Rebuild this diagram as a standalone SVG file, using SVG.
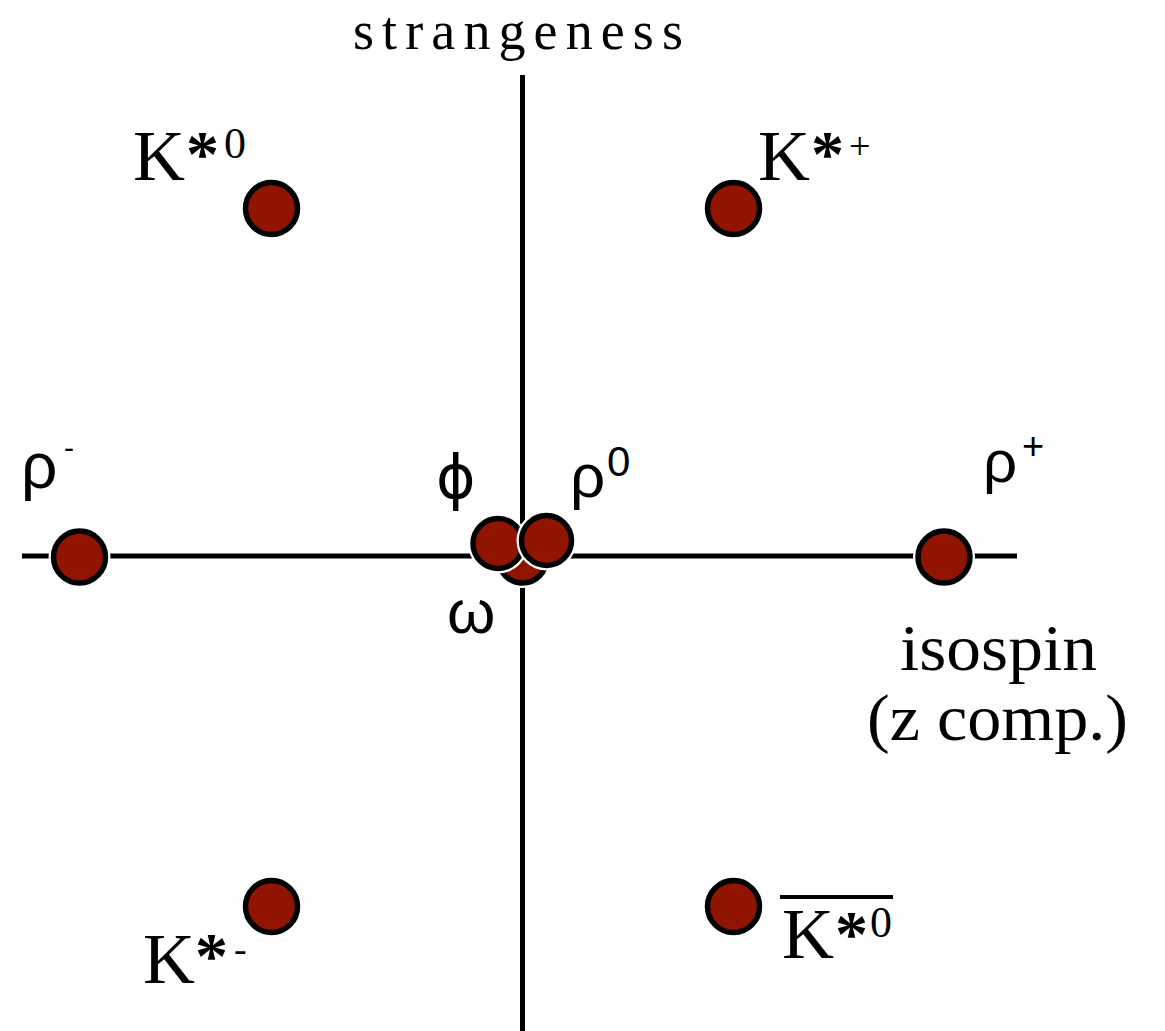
<svg xmlns="http://www.w3.org/2000/svg" width="1165" height="1031" viewBox="0 0 1165 1031">
<style>
.serif{font-family:"Liberation Serif","DejaVu Serif",serif;fill:#000}
.sans{font-family:"Liberation Sans","DejaVu Sans",sans-serif;fill:#000}
.halo{fill:#fff}
.p{fill:#911400;stroke:#000;stroke-width:5.5}
.axis{stroke:#000;stroke-width:5;fill:none}
</style>
<rect width="1165" height="1031" fill="#fff"/>
<g id="axes">
<line class="axis" x1="522.5" y1="75" x2="522.5" y2="1031"/>
<line class="axis" x1="22" y1="556" x2="1017" y2="556"/>
</g>
<g id="axis-labels">
<text class="serif" x="353" y="49" font-size="54" textLength="330" lengthAdjust="spacing">strangeness</text>
<text class="serif" x="900" y="670" font-size="66" textLength="197" lengthAdjust="spacingAndGlyphs">isospin</text>
<text class="serif" x="867" y="740" font-size="66" textLength="261" lengthAdjust="spacingAndGlyphs">(z comp.)</text>
</g>
<g id="K-star-0">
<circle class="halo" cx="271.5" cy="208.5" r="31"/>
<circle class="p" cx="271.5" cy="208.5" r="26"/>
<text class="serif"><tspan x="133" y="180" font-size="72">K</tspan><tspan x="186" y="176" font-size="66" font-weight="bold">*</tspan><tspan x="224" y="158" font-size="44">0</tspan></text>
</g>
<g id="K-star-plus">
<circle class="halo" cx="733.5" cy="208.5" r="31"/>
<circle class="p" cx="733.5" cy="208.5" r="26"/>
<text class="serif"><tspan x="758" y="180" font-size="72">K</tspan><tspan x="811" y="176" font-size="66" font-weight="bold">*</tspan><tspan x="849" y="159" font-size="38">+</tspan></text>
</g>
<g id="rho-minus">
<circle class="halo" cx="79.5" cy="557" r="31"/>
<circle class="p" cx="79.5" cy="557" r="26"/>
<text class="sans"><tspan x="21" y="488" font-size="64">ρ</tspan><tspan x="64" y="458" font-size="30">-</tspan></text>
</g>
<g id="rho-plus">
<circle class="halo" cx="944" cy="557" r="31"/>
<circle class="p" cx="944" cy="557" r="26"/>
<text class="sans"><tspan x="983" y="482" font-size="60">ρ</tspan><tspan x="1022" y="459" font-size="38">+</tspan></text>
</g>
<g id="omega">
<circle class="halo" cx="522.5" cy="559" r="29"/>
<circle class="p" cx="522.5" cy="559" r="24"/>
<text class="sans" x="447" y="633" font-size="62">ω</text>
</g>
<g id="phi">
<circle class="halo" cx="498" cy="543.5" r="30"/>
<circle class="p" cx="498" cy="543.5" r="25"/>
<text x="436" y="498" font-size="60" font-family="'DejaVu Sans',sans-serif">ϕ</text>
</g>
<g id="rho-0">
<circle class="halo" cx="546.5" cy="540.5" r="30"/>
<circle class="p" cx="546.5" cy="540.5" r="25"/>
<text class="sans"><tspan x="570" y="497" font-size="62">ρ</tspan><tspan x="607" y="476" font-size="42">0</tspan></text>
</g>
<g id="K-star-minus">
<circle class="halo" cx="271.5" cy="906.5" r="31"/>
<circle class="p" cx="271.5" cy="906.5" r="26"/>
<text class="serif"><tspan x="143" y="983" font-size="72">K</tspan><tspan x="195" y="978" font-size="66" font-weight="bold">*</tspan><tspan x="234" y="962" font-size="38">-</tspan></text>
</g>
<g id="K-star-0-bar">
<circle class="halo" cx="733.5" cy="906.5" r="31"/>
<circle class="p" cx="733.5" cy="906.5" r="26"/>
<text class="serif"><tspan x="782" y="958" font-size="72">K</tspan><tspan x="835" y="956" font-size="66" font-weight="bold">*</tspan><tspan x="870" y="937" font-size="44">0</tspan></text>
<line x1="780" y1="897" x2="893" y2="897" stroke="#000" stroke-width="4"/>
</g>
</svg>
